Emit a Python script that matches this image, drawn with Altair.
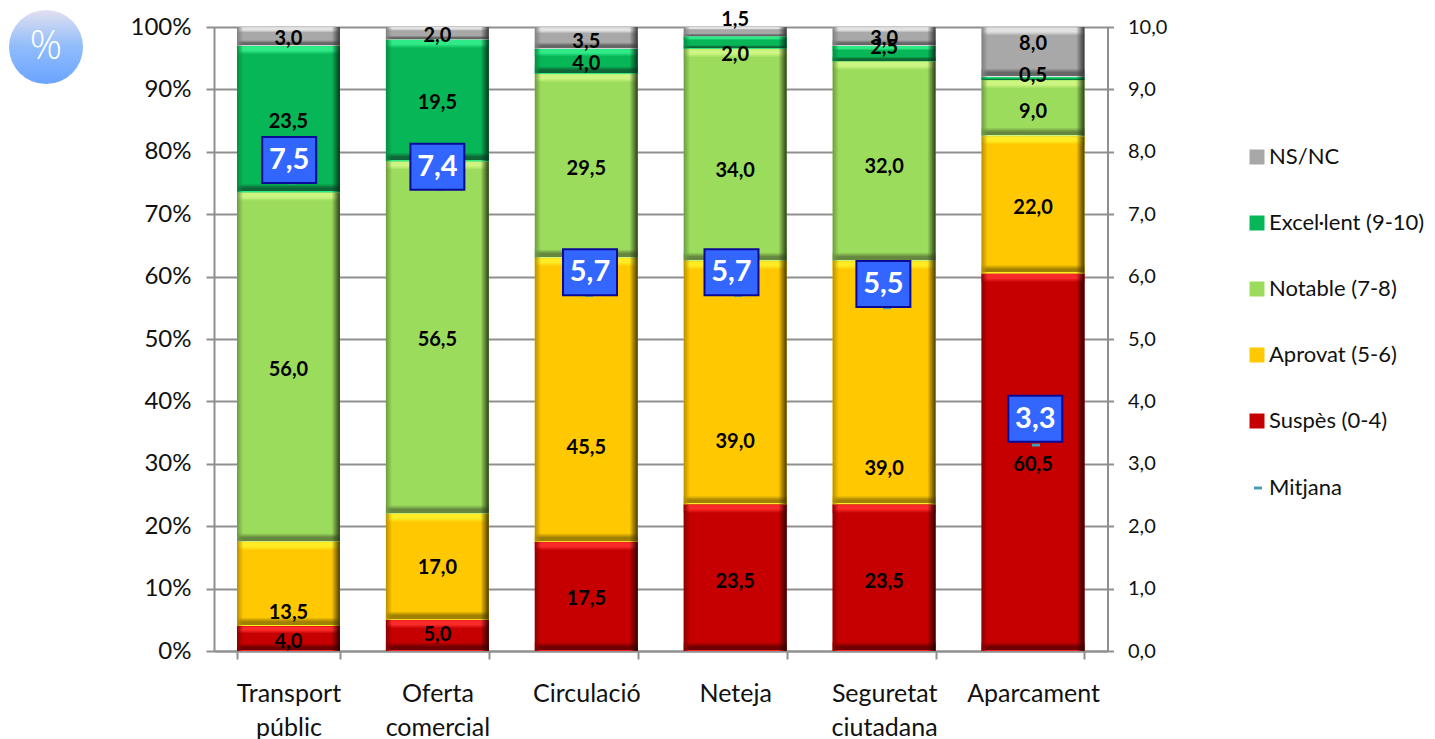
import altair as alt
import pandas as pd

categories = ["Transport|públic", "Oferta|comercial", "Circulació", "Neteja", "Seguretat|ciutadana", "Aparcament"]
series = ["NS/NC", "Excel·lent (9-10)", "Notable (7-8)", "Aprovat (5-6)", "Suspès (0-4)"]
stack_order = ["Suspès (0-4)", "Aprovat (5-6)", "Notable (7-8)", "Excel·lent (9-10)", "NS/NC"]

suspes = [4.0, 5.0, 17.5, 23.5, 23.5, 60.5]
aprovat = [13.5, 17.0, 45.5, 39.0, 39.0, 22.0]
notable = [56.0, 56.5, 29.5, 34.0, 32.0, 9.0]
excellent = [23.5, 19.5, 4.0, 2.0, 2.5, 0.5]
nsnc = [3.0, 2.0, 3.5, 1.5, 3.0, 8.0]
values = {"Suspès (0-4)": suspes, "Aprovat (5-6)": aprovat, "Notable (7-8)": notable,
          "Excel·lent (9-10)": excellent, "NS/NC": nsnc}

# where each value label sits, in % of the left axis
label_suspes = [1.6, 2.7, 8.5, 11.2, 11.2, 29.9]
label_aprovat = [6.3, 13.4, 32.7, 33.6, 29.3, 71.2]
label_notable = [45.2, 50.0, 77.4, 77.1, 77.7, 86.5]
label_excellent = [84.9, 88.0, 94.2, 95.7, 96.8, 92.3]
label_nsnc = [98.2, 98.7, 97.8, 101.3, 98.2, 97.4]
label_pos = {"Suspès (0-4)": label_suspes, "Aprovat (5-6)": label_aprovat, "Notable (7-8)": label_notable,
             "Excel·lent (9-10)": label_excellent, "NS/NC": label_nsnc}

mean_values = [7.5, 7.4, 5.7, 5.7, 5.5, 3.3]
mean_x = [0.52, 1.52, 2.52, 3.52, 4.52, 5.52]
box_x = [0.505, 1.5, 2.525, 3.475, 4.495, 5.515]
box_y = [7.87, 7.76, 6.07, 6.07, 5.88, 3.72]

# name: (base, top highlight, bottom shade, left edge, right edge)
palette = {
    "NS/NC": ("#a8a8a8", "#e2e2e2", "#666666", "#808080", "#383838"),
    "Excel·lent (9-10)": ("#07b757", "#30ea88", "#0c6636", "#078c42", "#03381b"),
    "Notable (7-8)": ("#9cdc5c", "#ccf582", "#65873f", "#6f9a44", "#2a3f18"),
    "Aprovat (5-6)": ("#ffc800", "#ffec24", "#a08000", "#b89000", "#4a3a00"),
    "Suspès (0-4)": ("#c60000", "#fa2a2a", "#700000", "#8e0000", "#300000"),
}

FONT = "Lato"
GREY = "#8f8f8f"

rows = []
for i, c in enumerate(categories):
    base = 0.0
    for s in stack_order:
        v = values[s][i]
        rows.append(dict(cat=c, series=s, low=base, high=base + v,
                         label=f"{v:.1f}".replace(".", ","), pos=label_pos[s][i]))
        base += v
df = pd.DataFrame(rows)
df["strip"] = (df["high"] - df["low"]).clip(upper=4.6) * 0.3

band = alt.Scale(paddingInner=0.309, paddingOuter=0.1545)
pct = alt.Scale(domain=[0, 100], nice=False)

x_enc = alt.X("cat:N", sort=categories, title=None, scale=band,
              axis=alt.Axis(labelExpr="split(datum.label, '|')", labelAngle=0, labelFontSize=25, labelFont=FONT,
                            labelColor="#111111", labelPadding=22, labelLineHeight=34, tickBand="extent",
                            tickSize=8, tickWidth=2, tickColor=GREY, domainColor=GREY, domainWidth=2,
                            labelBaseline="top", grid=False))
y_left = alt.Y("low:Q", title=None, scale=pct,
               axis=alt.Axis(orient="left", values=list(range(0, 101, 10)), labelExpr="datum.value + '%'",
                             labelFontSize=24, labelFont=FONT, labelColor="#111111", labelPadding=15, tickSize=8,
                             tickWidth=2, tickColor=GREY, domainColor=GREY, domainWidth=2, grid=True,
                             gridColor=GREY, gridWidth=2))
x_plain = alt.X("cat:N", sort=categories, title=None, axis=None, scale=band)
y_plain = alt.Y("low:Q", title=None, axis=None, scale=pct)


def grad(stops, horizontal=True):
    return {"gradient": "linear", "x1": 0, "x2": 1 if horizontal else 0, "y1": 0, "y2": 0 if horizontal else 1,
            "stops": [{"offset": o, "color": c} for o, c in stops]}


# solid base layer: carries the axes and the native legend
layers = [
    alt.Chart(df).mark_bar().encode(
        x=x_enc, y=y_left, y2="high:Q",
        color=alt.Color("series:N", title=None,
                        scale=alt.Scale(domain=series, range=[palette[s][0] for s in series]),
                        legend=alt.Legend(orient="none", legendX=1032, legendY=119, symbolType="square",
                                          symbolSize=225, labelFontSize=22, labelFont=FONT, labelColor="#111111",
                                          rowPadding=44, labelOffset=1, padding=0, symbolStrokeWidth=0,
                                          labelLimit=300)))
]
for s in stack_order:
    base, top, bottom, left, right = palette[s]
    sub = df[df["series"] == s].copy()
    sub["top_in"] = sub["high"] - sub["strip"]
    sub["bot_in"] = sub["low"] + sub["strip"]
    layers.append(alt.Chart(sub).mark_bar(
        color=grad([(0, base), (0.1, top), (0.55, top), (1, base)], horizontal=False)).encode(
        x=x_plain, y=alt.Y("top_in:Q", title=None, axis=None, scale=pct), y2="high:Q"))
    layers.append(alt.Chart(sub).mark_bar(
        color=grad([(0, base), (0.5, bottom), (0.86, bottom), (0.88, top), (1, top)], horizontal=False)).encode(
        x=x_plain, y=y_plain, y2="bot_in:Q"))
    layers.append(alt.Chart(sub).mark_bar(
        color=grad([(0, left + "ff"), (0.06, left + "00"), (0.92, right + "00"), (1, right + "ff")])).encode(
        x=x_plain, y=y_plain, y2="high:Q"))

layers.append(alt.Chart(df).mark_text(font=FONT, fontWeight="bold", fontSize=20, color="#000000", dy=1).encode(
    x=x_plain, y=alt.Y("pos:Q", title=None, axis=None, scale=pct), text="label:N"))

mean_df = pd.DataFrame({"mx": mean_x, "bx": box_x, "by": box_y, "mean": mean_values,
                        "name": ["Mitjana"] * 6,
                        "txt": [f"{v:.1f}".replace(".", ",") for v in mean_values]})
# the label box is 54x46 px on axes of 149 px per category and 62.4 px per unit
mean_df["bx1"] = mean_df["bx"] - 27 / 149
mean_df["bx2"] = mean_df["bx"] + 27 / 149
mean_df["by1"] = mean_df["by"] - 23 / 62.4
mean_df["by2"] = mean_df["by"] + 23 / 62.4
x_mean = alt.Scale(domain=[0, 6], nice=False, zero=False)
y_mean = alt.Scale(domain=[0, 10], nice=False)
DASH = "M-1,-0.36H1V0.36H-1Z"

marker = alt.Chart(mean_df).mark_point(shape=DASH, filled=True, size=64, opacity=1).encode(
    x=alt.X("mx:Q", title=None, axis=None, scale=x_mean),
    y=alt.Y("mean:Q", title=None, scale=y_mean,
            axis=alt.Axis(orient="right", values=list(range(0, 11)),
                          labelExpr="replace(format(datum.value, '.1f'), '.', ',')", labelFontSize=20,
                          labelFont=FONT, labelColor="#111111", labelPadding=14, tickSize=6, tickWidth=2,
                          tickColor=GREY, domainColor=GREY, domainWidth=2, grid=False)),
    color=alt.Color("name:N", title=None, scale=alt.Scale(domain=["Mitjana"], range=["#3f9dbb"]),
                    legend=alt.Legend(orient="none", legendX=1033, legendY=450, symbolType=DASH, symbolSize=64,
                                      labelFontSize=22, labelFont=FONT, labelColor="#111111", labelOffset=0,
                                      padding=0, symbolStrokeWidth=0)))
box = alt.Chart(mean_df).mark_rect(color="#3366ff", stroke="#0a0a96", strokeWidth=2).encode(
    x=alt.X("bx1:Q", title=None, axis=None, scale=x_mean), x2="bx2:Q",
    y=alt.Y("by1:Q", title=None, axis=None, scale=y_mean), y2="by2:Q")
box_text = alt.Chart(mean_df).mark_text(font=FONT, fontWeight="bold", fontSize=29, color="white").encode(
    x=alt.X("bx:Q", title=None, axis=None, scale=x_mean),
    y=alt.Y("by:Q", title=None, axis=None, scale=y_mean),
    text="txt:N")
badge_df = pd.DataFrame({"t": ["%"]})
badge = alt.Chart(badge_df).mark_point(
    filled=True, shape="circle", size=5476, opacity=1,
    color=grad([(0, "#e2e0f0"), (0.5, "#8fbcfb"), (1, "#6ba3ff")], horizontal=False)).encode(
    x=alt.value(-168), y=alt.value(20))
badge_text = alt.Chart(badge_df).mark_text(font="Open Sans", fontWeight=300, fontSize=40, color="white").encode(
    x=alt.value(-168), y=alt.value(20), text="t:N")

chart = alt.layer(*layers, marker, box, box_text, badge, badge_text).resolve_scale(
    x="independent", y="independent", color="independent"
).properties(
    width=893.5, height=624,
    autosize=alt.AutoSizeParams(type="none"),
    padding={"left": 206, "top": 19, "right": 319.5, "bottom": 88},
).configure_view(stroke=None)

chart.save("out.html", embed_options={"renderer": "svg", "actions": False})
